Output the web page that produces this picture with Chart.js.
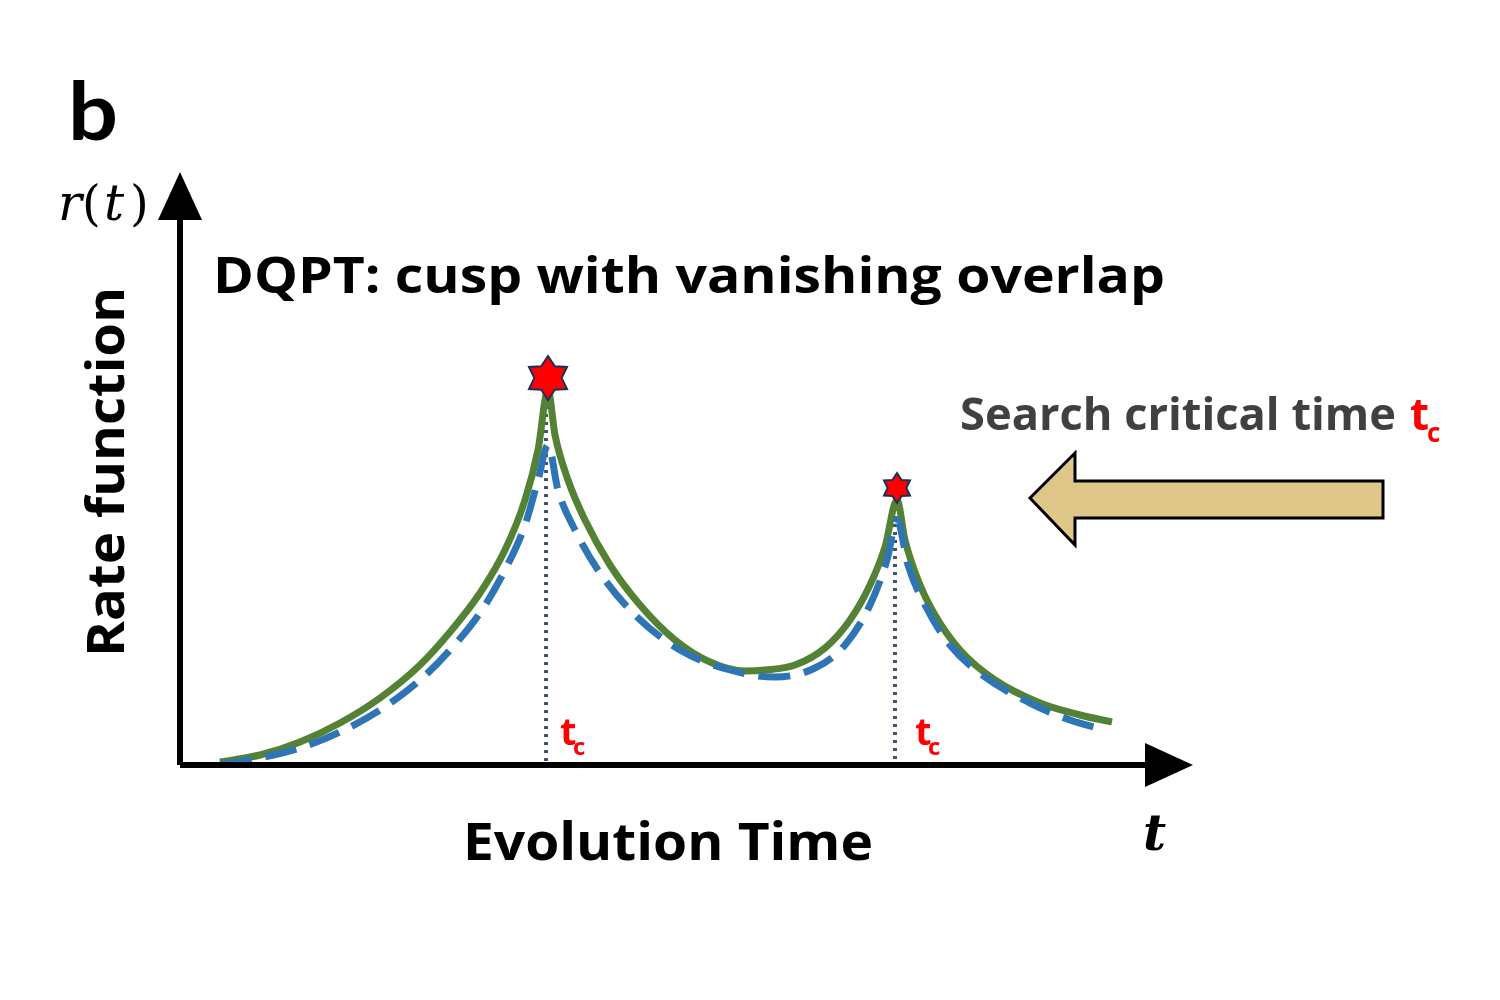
<!DOCTYPE html>
<html><head><meta charset="utf-8">
<script src="https://cdn.jsdelivr.net/npm/chart.js@4"></script>
<style>html,body{margin:0;padding:0;background:#fff}#w{width:1500px;height:1000px}</style>
</head><body><div id="w"><canvas id="c" width="1500" height="1000"></canvas></div>
<script>
const greenT=[220,260,300,340,380,420,450,480,505,525,538,548,555,568,585,610,640,675,710,745,765,795,825,850,870,885,897,905,918,935,960,995,1040,1080,1112];
const greenR=[3,10,23,42,67,100,133,172,215,265,315,375,330,285,245,200,160,125,103,94,95,100,117,145,180,218,265,225,185,150,115,85,62,50,43];
const blueT=[220,260,300,340,380,420,450,480,505,525,538,548,558,575,600,635,680,730,775,815,845,870,887,897,908,925,950,985,1030,1070,1105];
const blueR=[0,7,17,33,55,85,115,152,195,240,285,320,275,235,192,150,115,95,88,97,120,160,205,245,200,160,120,88,62,45,35];
const cuspT=[548,897];
const cuspR=[375,265];
const starSize=[22,15];

function fitText(ctx,txt,x,y,w,font,size){ctx.font=font.replace('S',size+'px');const m=ctx.measureText(txt).width;ctx.save();ctx.translate(x,y);ctx.scale(w/m,1);ctx.fillText(txt,0,0);ctx.restore();}
function star(ctx,cx,cy,r){ctx.beginPath();for(let i=0;i<12;i++){const a=-Math.PI/2+i*Math.PI/6;const rr=i%2?r*0.62:r;ctx.lineTo(cx+rr*Math.cos(a),cy+rr*Math.sin(a));}ctx.closePath();ctx.fillStyle='#ff0000';ctx.fill();ctx.strokeStyle='#1f2d5c';ctx.lineWidth=2;ctx.stroke();}

const deco={id:'deco',
beforeDatasetsDraw(ch){const ctx=ch.ctx,xs=ch.scales.x,ys=ch.scales.y;
 ctx.save();ctx.strokeStyle='#44546a';ctx.lineWidth=4;ctx.setLineDash([3,5]);
 cuspT.forEach((t,i)=>{ctx.beginPath();ctx.moveTo(xs.getPixelForValue(t-2),ys.getPixelForValue(cuspR[i]));ctx.lineTo(xs.getPixelForValue(t-2),ys.getPixelForValue(0));ctx.stroke();});
 ctx.restore();},
afterDraw(ch){const ctx=ch.ctx,xs=ch.scales.x,ys=ch.scales.y;ctx.save();
 const ox=xs.getPixelForValue(180),oy=ys.getPixelForValue(0);
 ctx.strokeStyle='#000';ctx.fillStyle='#000';ctx.lineWidth=6;
 ctx.beginPath();ctx.moveTo(ox,oy);ctx.lineTo(1150,oy);ctx.moveTo(ox,oy);ctx.lineTo(ox,215);ctx.stroke();
 ctx.beginPath();ctx.moveTo(1193,oy);ctx.lineTo(1145,oy-22);ctx.lineTo(1145,oy+22);ctx.fill();
 ctx.beginPath();ctx.moveTo(ox,172);ctx.lineTo(ox-22,220);ctx.lineTo(ox+22,220);ctx.fill();
 cuspT.forEach((t,i)=>star(ctx,xs.getPixelForValue(t),ys.getPixelForValue(cuspR[i])-12,starSize[i]));
 ctx.beginPath();ctx.moveTo(1030,498);ctx.lineTo(1075,453);ctx.lineTo(1075,481);ctx.lineTo(1383,481);ctx.lineTo(1383,518);ctx.lineTo(1075,518);ctx.lineTo(1075,545);ctx.closePath();
 ctx.fillStyle='#dfc78a';ctx.fill();ctx.lineWidth=3;ctx.strokeStyle='#000';ctx.stroke();
 ctx.textBaseline='alphabetic';ctx.fillStyle='#000';
 fitText(ctx,'b',68,140,50,'bold S Lato',80);
 fitText(ctx,'DQPT: cusp with vanishing overlap',213,293,952,'bold S "Open Sans"',50);
 fitText(ctx,'Evolution Time',463,860,410,'bold S "Open Sans"',52);
 ctx.font='italic 50px "DejaVu Serif"';ctx.fillText('r',58,220);ctx.font='48px "DejaVu Serif"';ctx.fillText('(',82,220);ctx.font='italic 50px "DejaVu Serif"';ctx.fillText('t',104,220);ctx.font='48px "DejaVu Serif"';ctx.fillText(')',130,220);
 ctx.font='italic bold 50px "DejaVu Serif"';ctx.fillText('t',1143,850);
 ctx.save();ctx.translate(124,657);ctx.rotate(-Math.PI/2);fitText(ctx,'Rate function',0,0,370,'bold S "Open Sans"',52);ctx.restore();
 ctx.fillStyle='#404040';fitText(ctx,'Search critical time',960,430,436,'bold S "Open Sans"',44);
 ctx.save();ctx.beginPath();ctx.rect(0,0,1440,1000);ctx.clip();ctx.fillStyle='#ff0000';ctx.font='bold 44px "Open Sans"';ctx.fillText('t',1410,430);ctx.font='bold 26px "Open Sans"';ctx.fillText('c',1427,442);ctx.restore();
 ctx.fillStyle='#ff0000';[[560,745],[915,745]].forEach(p=>{ctx.font='bold 38px "Open Sans"';ctx.fillText('t',p[0],p[1]);ctx.font='bold 24px "Open Sans"';ctx.fillText('c',p[0]+13,p[1]+10);});
 ctx.restore();}};

new Chart(document.getElementById('c'),{type:'line',
 data:{datasets:[
  {data:blueT.map((t,i)=>({x:t,y:blueR[i]})),borderColor:'#2e75b6',borderWidth:7,borderDash:[32,14],pointRadius:0,cubicInterpolationMode:'monotone'},
  {data:greenT.map((t,i)=>({x:t,y:greenR[i]})),borderColor:'#548235',borderWidth:7,pointRadius:0,cubicInterpolationMode:'monotone'}]},
 options:{responsive:false,animation:false,layout:{padding:{left:180,right:310,top:175,bottom:235}},
  plugins:{legend:{display:false},tooltip:{enabled:false}},
  scales:{x:{type:'linear',min:180,max:1190,display:false},y:{min:0,max:590,display:false}}},
 plugins:[deco]});
</script></body></html>
